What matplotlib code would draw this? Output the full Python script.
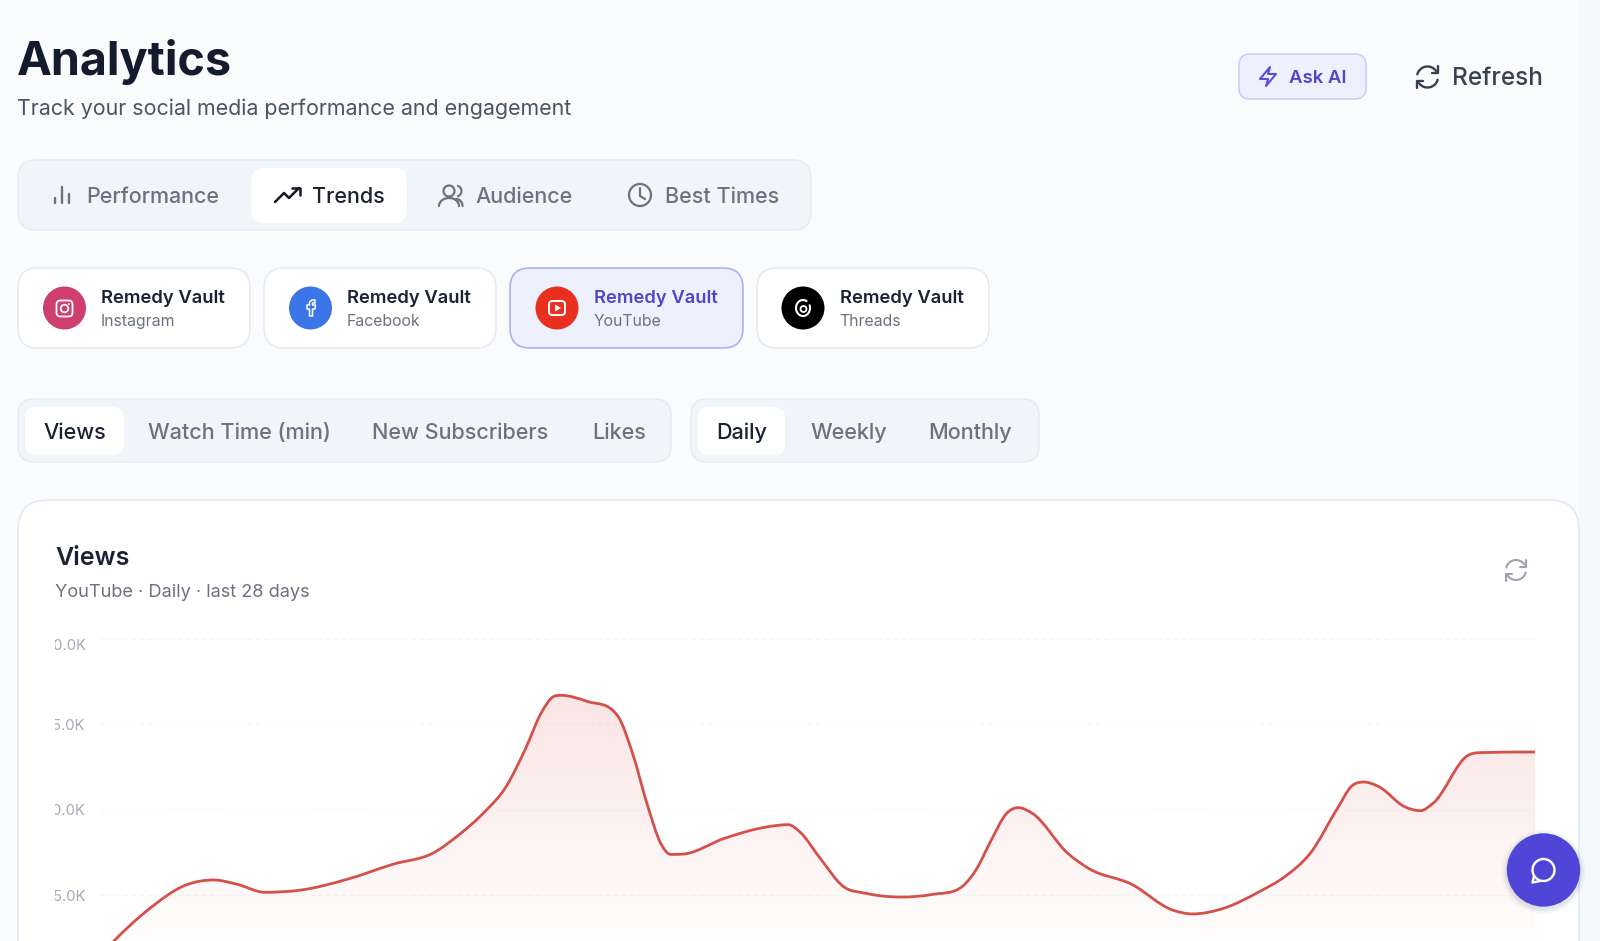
import numpy as np
import matplotlib
matplotlib.use("Agg")
import matplotlib.pyplot as plt
from matplotlib.patches import FancyBboxPatch, Circle, PathPatch, Polygon, Rectangle
from matplotlib.path import Path
from matplotlib.transforms import Bbox

plt.rcParams['font.family'] = ['Inter', 'DejaVu Sans']

# values: day position in the 28 day window, views in thousands
day_pos = [0.00, 0.28, 0.90, 1.62, 2.14, 2.58, 3.10, 3.78, 4.65, 5.51, 6.28, 6.75, 7.24, 7.62,
           8.01, 8.30, 8.53, 8.67, 9.16, 9.75, 10.02, 10.31, 10.55, 10.74, 10.98, 11.75, 12.51,
           12.95, 13.17, 13.55, 13.99, 14.41, 15.09, 15.67, 16.22, 16.48, 16.77, 17.06, 17.28,
           17.54, 18.21, 18.60, 19.41, 20.18, 20.56, 21.14, 21.81, 22.29, 22.77, 23.30, 23.54,
           23.78, 24.06, 24.55, 24.84, 25.08, 25.75, 25.94, 27.00]
views_k = [11.43, 12.36, 14.12, 15.59, 15.88, 15.63, 15.16, 15.29, 15.92, 16.80, 17.48, 18.52,
           19.88, 21.25, 23.60, 25.66, 26.62, 26.70, 26.35, 25.45, 23.30, 20.17, 18.03, 17.38,
           17.40, 18.32, 18.97, 19.12, 18.69, 17.15, 15.49, 15.10, 14.88, 15.04, 15.49, 16.46,
           18.22, 19.79, 20.12, 19.79, 17.44, 16.56, 15.63, 14.12, 13.89, 14.22, 15.19, 16.07,
           17.44, 20.17, 21.35, 21.62, 21.35, 20.17, 19.94, 20.37, 23.20, 23.34, 23.38]
y_ticks = [15, 20, 25, 30]
y_tick_labels = ['15.0K', '20.0K', '25.0K', '30.0K']

main_tabs = ['Performance', 'Trends', 'Audience', 'Best Times']
accounts = ['Instagram', 'Facebook', 'YouTube', 'Threads']
metric_tabs = ['Views', 'Watch Time (min)', 'New Subscribers', 'Likes']
period_tabs = ['Daily', 'Weekly', 'Monthly']

W, H = 1600, 941
DARK = '#1a2233'
GREY = '#6b7280'
INDIGO = '#4f46c8'

fig = plt.figure(figsize=(W / 100, H / 100), dpi=100, facecolor='#f9fbfd')


def px_axes(z):
    a = fig.add_axes([0, 0, 1, 1], zorder=z)
    a.set_xlim(0, W)
    a.set_ylim(H, 0)
    a.axis('off')
    a.patch.set_alpha(0)
    return a


ui = px_axes(1)
top = px_axes(5)


def box(x0, y0, x1, y1, r, fc, ec=None, lw=1.0, a=ui):
    a.add_patch(FancyBboxPatch((x0 + r, y0 + r), x1 - x0 - 2 * r, y1 - y0 - 2 * r,
                               boxstyle=f'round,pad={r},rounding_size={r}',
                               fc=fc, ec=ec if ec else 'none', lw=lw, mutation_aspect=1))


def label(x, y, s, px, color=DARK, weight=400, ha='left', a=ui):
    # y is the baseline, so descenders do not move a word
    return a.text(x, y, s, fontsize=px * 0.72, color=color, fontweight=weight,
                  ha=ha, va='baseline')


def stroke(xs, ys, color, lw=1.6, a=ui):
    a.plot(xs, ys, color=color, lw=lw, solid_capstyle='round', solid_joinstyle='round')


def ring(cx, cy, r, color, lw=1.6, a=ui):
    a.add_patch(Circle((cx, cy), r, fc='none', ec=color, lw=lw))


def refresh_icon(cx, cy, r, color, lw=1.6, a=ui):
    # y axis runs down, so angles go clockwise on screen
    for start, end in [(195, 325), (15, 145)]:
        t = np.radians(np.linspace(start, end, 30))
        stroke(cx + r * np.cos(t), cy + r * np.sin(t), color, lw, a)
    s = r * 0.55
    stroke([cx + r, cx + r, cx + r - s * 1.1], [cy - r * 1.05, cy - r * 0.35, cy - r * 0.35], color, lw, a)
    stroke([cx - r, cx - r, cx - r + s * 1.1], [cy + r * 1.05, cy + r * 0.35, cy + r * 0.35], color, lw, a)


# page header
label(17, 75, 'Analytics', 46.8, '#141b2d', 700)
label(17, 115, 'Track your social media performance and engagement', 21.4, '#4b5563')
box(1239, 54, 1366, 99, 11, '#eef0fd', '#c9cffa', 1.2)
ui.add_patch(Polygon([(1270, 67), (1260, 79), (1268, 79), (1266, 86), (1276, 74), (1268, 74)],
                     closed=True, fc='none', ec='#5a50d6', lw=1.5, joinstyle='round'))
label(1289, 83, 'Ask AI', 18.6, INDIGO, 600)
refresh_icon(1427.5, 77, 10.5, '#374151', 1.7)
label(1452, 85, 'Refresh', 24.4, '#374151', 500)

# main tabs
box(18, 160, 811, 230, 18, '#f1f5f9', '#e6ebf1', 1.0)
box(251, 168, 407, 223, 13, 'white')
tab_x = [86, 312, 475, 665]
for s, x in zip(main_tabs, tab_x):
    active = s == 'Trends'
    label(x, 203, s, 21.5, DARK if active else GREY, 500)
ICON = '#6b7280'
for dx, h in [(54.5, 5), (61.5, 16), (68.5, 9)]:
    stroke([dx, dx], [203, 203 - h], ICON, 1.7)
stroke([275, 284, 289, 299], [202, 193, 198, 188], '#111827', 1.8)
stroke([292, 299.5, 299.5], [188, 188, 195], '#111827', 1.8)
ring(449, 191, 5.5, ICON)
t = np.radians(np.linspace(180, 360, 30))
stroke(449 + 10 * np.cos(t), 206 + 8 * np.sin(t), ICON)
t = np.radians(np.linspace(-70, 70, 20))
stroke(456 + 5.5 * np.cos(t), 191 + 5.5 * np.sin(t), ICON)
t = np.radians(np.linspace(-90, 0, 20))
stroke(456 + 6.5 * np.cos(t), 206 + 7 * np.sin(t), ICON)
ring(640, 195, 11, ICON)
stroke([640, 640, 645], [188, 196, 199], ICON)

# account cards
card_x = [(18, 250), (264, 496), (510, 743), (757, 989)]
circle_x = [64.5, 310.5, 557, 803]
circle_c = ['#cf3e6e', '#3b76e8', '#e9301f', '#000000']
for name, (x0, x1), cx, cc in zip(accounts, card_x, circle_x, circle_c):
    sel = name == 'YouTube'
    box(x0, 268, x1, 348, 20, '#eef1fd' if sel else 'white', '#a9b2f0' if sel else '#e6ebf1', 1.2)
    ui.add_patch(Circle((cx, 308), 21.5, fc=cc, ec='none'))
    label(cx + 36.5, 303, 'Remedy Vault', 18.4, INDIGO if sel else DARK, 600)
    label(cx + 36.5, 326, name, 15.8, GREY)
box(56.5, 300.5, 72.5, 316.5, 4, 'none', 'white', 1.3)
ring(64.5, 308.5, 3.8, 'white', 1.3)
ui.add_patch(Circle((69, 304), 0.9, fc='white', ec='none'))
# facebook f outline
ui.add_patch(Polygon([(315, 300), (312, 300), (309.5, 302), (309.5, 305), (307, 305), (307, 309), (309.5, 309),
                      (309.5, 316), (312.5, 316), (312.5, 309), (315, 309), (315.5, 305), (312.5, 305),
                      (312.5, 303), (315, 303)], closed=True, fc='none', ec='white', lw=1.1, joinstyle='round'))
box(549, 301, 565, 315, 3.5, 'none', 'white', 1.4)
ui.add_patch(Polygon([(555, 304.5), (555, 311.5), (561, 308)], closed=True, fc='white', ec='none'))
# threads mark
t = np.radians(np.linspace(-20, 300, 50))
stroke(803 + 7 * np.cos(t), 308 + 8 * np.sin(t), 'white', 1.5)
ring(803.5, 309, 3, 'white', 1.3)

# metric and period switches
box(18, 399, 671, 462, 16, '#f1f5f9', '#e6ebf1', 1.0)
box(691, 399, 1039, 462, 16, '#f1f5f9', '#e6ebf1', 1.0)
box(25, 407, 124, 455, 11, 'white')
box(698, 407, 785, 455, 11, 'white')
metric_x = [43, 148.5, 372.5, 592]
period_x = [716, 810, 928.5]
for s, x in zip(metric_tabs + period_tabs, metric_x + period_x):
    active = s in ('Views', 'Daily')
    label(x, 438.5, s, 21.6, DARK if active else GREY, 500)

# chart card, runs past the bottom of the screenshot
ui.add_patch(Rectangle((1579, 0), 21, H, fc='#f6f9fb', ec='none'))
box(18, 500, 1579, 980, 30, 'white', '#e4e9f4', 1.2)
label(55, 565, 'Views', 25, DARK, 600)
label(55, 597, 'YouTube · Daily · last 28 days', 18.2, GREY)
refresh_icon(1516, 570, 10, '#9ca3af', 1.5)

# chart: gridline px 639 is 30K, px 895 is 15K
x_left, x_right = 100, 1535
ax = fig.add_axes([x_left / W, 0, (x_right - x_left) / W, (H - 639) / H], zorder=3)
ax.patch.set_alpha(0)
for sp in ax.spines.values():
    sp.set_visible(False)
ax.set_xlim(0, 27)
ax.set_ylim(15 - (H - 895) / 17.067, 30)
ax.set_xticks([])
ax.set_yticks(y_ticks)
ax.set_yticklabels(y_tick_labels)
ax.tick_params(axis='y', length=0, pad=10.3, labelsize=14.8 * 0.72, labelcolor='#a4aab7')
ax.yaxis.grid(True, color='#f4f5f7', lw=0.8, ls=(0, (4, 3)))
ax.set_axisbelow(True)
clip = Bbox([[55, 0], [100, H]])
for lbl in ax.get_yticklabels():
    lbl.set_clip_box(clip)
    lbl.set_clip_on(True)
ax.get_yticklabels()[-1].set_va('top')

xs = np.array(day_pos)
ys = np.array(views_k)
# weighted tangents, limited so the curve does not overshoot between readings
dx = np.diff(xs)
slope = np.diff(ys) / dx
tang = np.zeros_like(ys)
tang[0], tang[-1] = slope[0], slope[-1]
for i in range(1, len(ys) - 1):
    if slope[i - 1] * slope[i] > 0:
        m = (slope[i - 1] * dx[i] + slope[i] * dx[i - 1]) / (dx[i] + dx[i - 1])
        tang[i] = np.sign(m) * min(abs(m), 3 * abs(slope[i - 1]), 3 * abs(slope[i]))
verts = [(xs[0], ys[0])]
codes = [Path.MOVETO]
for i in range(len(xs) - 1):
    h = (xs[i + 1] - xs[i]) / 3
    verts += [(xs[i] + h, ys[i] + tang[i] * h), (xs[i + 1] - h, ys[i + 1] - tang[i + 1] * h), (xs[i + 1], ys[i + 1])]
    codes += [Path.CURVE4] * 3
line_path = Path(verts, codes)
area_path = Path(verts + [(xs[-1], 0), (xs[0], 0), (xs[0], ys[0])],
                 codes + [Path.LINETO, Path.LINETO, Path.LINETO])

grad = np.zeros((256, 1, 4))
grad[..., :3] = matplotlib.colors.to_rgb('#dc4f48')
grad[..., 3] = np.linspace(0.15, 0.0, 256)[:, None]
ylo, yhi = ax.get_ylim()
im = ax.imshow(grad, extent=(0, 27, 11.0, 26.8), origin='upper', aspect='auto', zorder=2)
im.set_clip_path(PathPatch(area_path, transform=ax.transData))
ax.set_xlim(0, 27)
ax.set_ylim(ylo, yhi)
ax.add_patch(PathPatch(line_path, fc='none', ec='#d5504a', lw=2.0, zorder=3, capstyle='butt'))

# floating chat button
for r, al in [(42, 0.03), (40, 0.04), (38.5, 0.05)]:
    top.add_patch(Circle((1543.5, 872), r, fc='#1f2440', ec='none', alpha=al))
top.add_patch(Circle((1543.5, 870), 36.7, fc='#4f46d8', ec='none'))
ring(1543.5, 870, 11, 'white', 1.7, top)
stroke([1534, 1532.5, 1540], [876, 882.5, 881], 'white', 1.7, top)

fig.savefig('out.png', dpi=100, facecolor=fig.get_facecolor())
